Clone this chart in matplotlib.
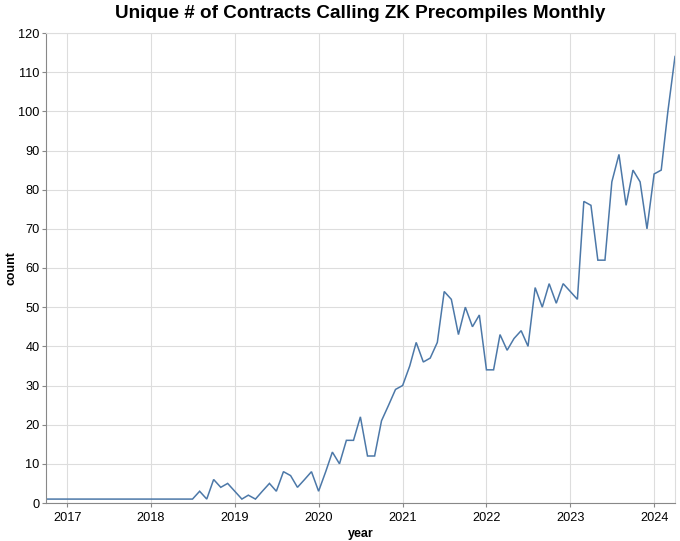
import matplotlib
matplotlib.use("Agg")
import matplotlib.pyplot as plt
import matplotlib.dates as mdates
import pandas as pd

start_month = "2016-10-01"
counts = [
    1, 1, 1,                                  # 2016-10..12
    1, 1, 1, 1, 1, 1, 1, 1, 1, 1, 1, 1,        # 2017
    1, 1, 1, 1, 1, 1, 1, 3, 1, 6, 4, 5,        # 2018
    3, 1, 2, 1, 3, 5, 3, 8, 7, 4, 6, 8,        # 2019
    3, 8, 13, 10, 16, 16, 22, 12, 12, 21, 25, 29,   # 2020
    30, 35, 41, 36, 37, 41, 54, 52, 43, 50, 45, 48, # 2021
    34, 34, 43, 39, 42, 44, 40, 55, 50, 56, 51, 56, # 2022
    54, 52, 77, 76, 62, 62, 82, 89, 76, 85, 82, 70, # 2023
    84, 85, 100, 114,                          # 2024-01..04
]
months = pd.date_range(start_month, periods=len(counts), freq="MS")
y_ticks = list(range(0, 121, 10))
x_tick_years = list(range(2017, 2025))

plt.rcParams['font.family'] = ['Liberation Sans', 'DejaVu Sans']

fig = plt.figure(figsize=(6.8, 5.41), dpi=100)
ax = fig.add_axes([46/680, 1 - 503/541, (675 - 46)/680, (503 - 33)/541])

ax.plot(months, counts, color="#4c78a8", linewidth=1.1, solid_joinstyle="miter")

ax.set_xlim(months[0], months[-1])
ax.set_ylim(0, 120)
ax.set_yticks(y_ticks)
ax.set_xticks([pd.Timestamp(f"{y}-01-01") for y in x_tick_years])
ax.xaxis.set_major_formatter(mdates.DateFormatter("%Y"))

ax.grid(True, color="#dddddd", linewidth=0.8)
ax.set_axisbelow(True)
for side in ["top", "right"]:
    ax.spines[side].set_color("#dddddd")
    ax.spines[side].set_linewidth(0.8)
for side in ["left", "bottom"]:
    ax.spines[side].set_color("#888888")
    ax.spines[side].set_linewidth(0.8)
ax.tick_params(axis="both", colors="#888888", labelcolor="black", length=3.2,
               width=0.8, labelsize=9.2, pad=1.5)
ax.tick_params(axis="x", pad=3)

ax.set_xlabel("year", fontsize=9.0, fontweight="bold", labelpad=3)
ax.set_ylabel("count", fontsize=8.9, fontweight="bold")
ax.yaxis.set_label_coords(-0.045, 0.5)
fig.suptitle("Unique # of Contracts Calling ZK Precompiles Monthly",
             fontsize=13.6, fontweight="bold", x=(46 + 675) / 2 / 680, y=1 - 5/541, va="top")

fig.savefig("out.png", dpi=100)
